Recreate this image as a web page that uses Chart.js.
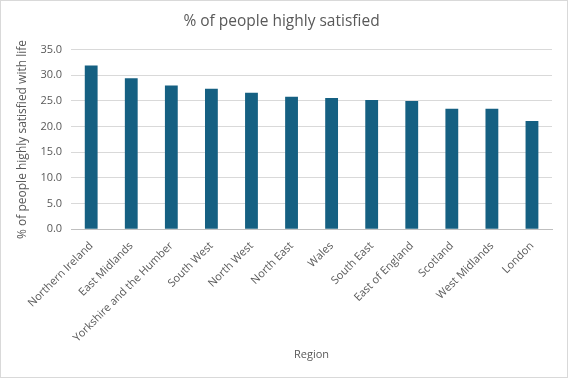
<!DOCTYPE html>
<html><head><meta charset="utf-8">
<script src="https://cdn.jsdelivr.net/npm/chart.js@4/dist/chart.umd.min.js"></script>
<style>
html,body{margin:0;padding:0;background:#fff;}
#wrap{position:absolute;left:0;top:0;width:566px;height:376px;border:1px solid #d9d9d9;}
</style></head><body>
<div id="wrap"><canvas id="c" width="566" height="376"></canvas></div>
<script>
const categories = ["Northern Ireland","East Midlands","Yorkshire and the Humber","South West","North West","North East","Wales","South East","East of England","Scotland","West Midlands","London"];
const values = [31.9, 29.4, 28.0, 27.4, 26.6, 25.8, 25.6, 25.2, 25.0, 23.5, 23.5, 21.1];
const chartTitle = "% of people highly satisfied";
const yTitle = "% of people highly satisfied with life";
const xTitle = "Region";
const FONT = "'Open Sans', 'Liberation Sans', sans-serif";
new Chart(document.getElementById('c'), {
  type: 'bar',
  data: { labels: categories, datasets: [{ data: values, backgroundColor: '#156082', categoryPercentage: 1, barPercentage: 0.32 }] },
  options: {
    responsive: false, animation: false,
    layout: { padding: { left: 10, right: 15, top: 7, bottom: 12 } },
    plugins: {
      legend: { display: false }, tooltip: { enabled: false },
      title: { display: true, text: chartTitle, color: '#595959', font: { family: FONT, size: 15.5, weight: 'normal' }, padding: { top: 4, bottom: 19 } }
    },
    scales: {
      y: {
        min: 0, max: 35,
        ticks: { stepSize: 5, color: '#595959', font: { family: FONT, size: 11 }, callback: v => v.toFixed(1), padding: 9 },
        grid: { color: '#d9d9d9', drawTicks: false },
        border: { display: false },
        title: { display: true, text: yTitle, color: '#595959', font: { family: FONT, size: 12 }, padding: { bottom: 2 } }
      },
      x: {
        ticks: { color: '#595959', font: { family: FONT, size: 11 }, maxRotation: 45, minRotation: 45, autoSkip: false, padding: 2 },
        grid: { display: false },
        border: { color: '#bfbfbf' },
        title: { display: true, text: xTitle, color: '#595959', font: { family: FONT, size: 11 }, padding: { top: 1 } }
      }
    }
  }
});
</script>
</body></html>
